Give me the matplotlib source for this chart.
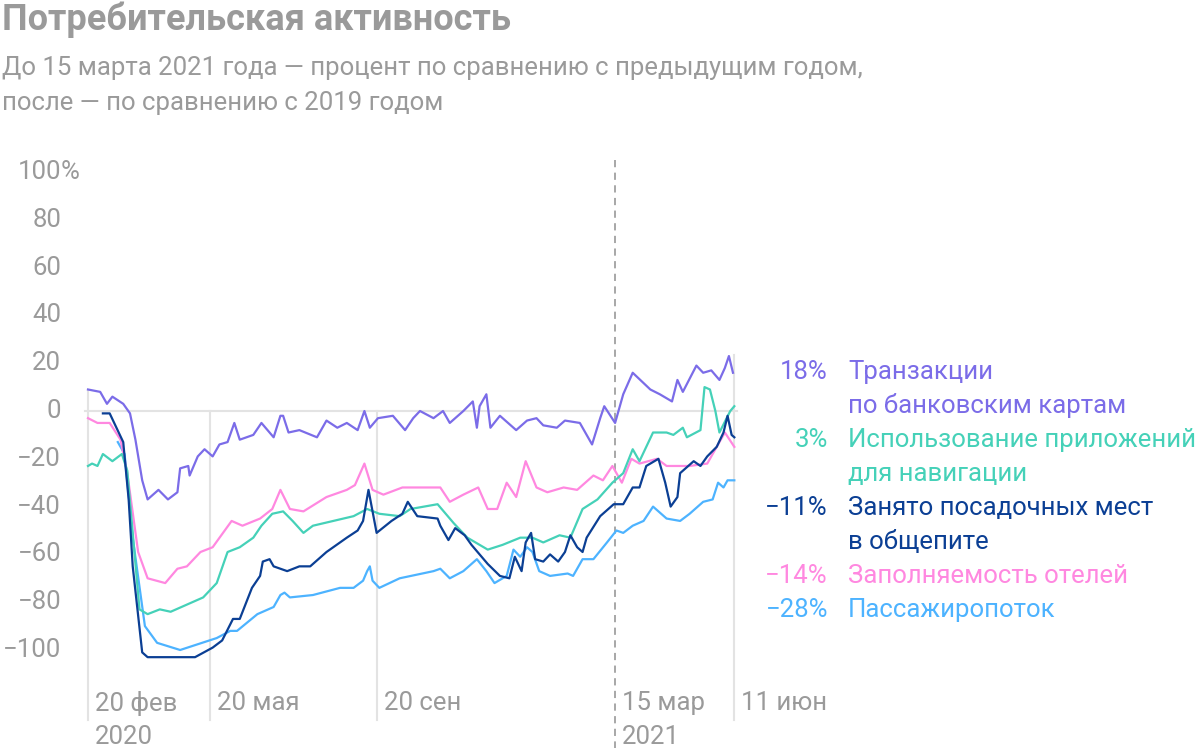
import matplotlib
matplotlib.use("Agg")
import matplotlib.pyplot as plt

# days since 2020-02-20
tr_d = [0,9,14,18,26,31,35,40,44,52,59,66,68,74,75,81,86,92,97,103,108,112,122,128,137,142,144,148,156,169,176,184,191,199,204,208,214,225,234,240,245,255,262,267,277,284,287,289,294,297,304,316,324,331,336,346,352,363,372,378,381,389,395,402,415,422,431,435,439,449,454,460,466,470,473,476]
tr_v = [9,8,3,6,3,-1,-12,-29,-37,-33,-37,-34,-24,-23,-27,-19,-16,-19,-14,-13,-5,-12,-10,-5,-11,-2,-2,-9,-8,-11,-4,-7,-5,-8,0,-7,-3,-2,-8,-3,0,-3,0,-5,0,4,-7,2,7,-7,-2,-8,-4,-3,-6,-7,-4,-5,-14,-3,2,-5,7,16,9,7,4,13,8,19,16,17,13,18,23,16]

nav_d = [0,3,7,11,18,25,29,33,38,44,53,61,77,85,95,103,112,122,128,136,144,151,159,166,181,196,206,215,230,238,258,270,280,295,306,319,328,336,348,356,365,376,387,395,402,407,417,427,432,439,442,452,455,459,463,466,474,477]
nav_v = [-23,-22,-23,-18,-21,-18,-25,-51,-83,-85,-83,-84,-80,-78,-72,-59,-57,-53,-48,-43,-42,-46,-51,-48,-46,-44,-41,-43,-44,-41,-39,-47,-53,-58,-56,-53,-53,-55,-52,-53,-41,-37,-30,-26,-16,-21,-9,-9,-10,-7,-11,-8,10,9,0,-9,0,2]

seat_d = [11,16,26,30,33,40,44,79,92,99,107,112,121,127,129,134,137,147,156,164,176,191,199,203,207,213,224,232,236,243,258,260,266,271,278,283,295,304,311,315,320,323,327,330,336,341,347,352,356,361,365,368,378,388,395,402,407,412,421,426,430,435,437,447,452,457,464,469,472,475,477]
seat_v = [-1,-1,-13,-37,-65,-101,-103,-103,-99,-96,-87,-87,-74,-69,-63,-62,-65,-67,-65,-65,-59,-53,-50,-46,-33,-51,-46,-43,-38,-44,-45,-48,-54,-49,-52,-56,-64,-69,-70,-61,-67,-55,-51,-62,-63,-60,-63,-59,-52,-57,-59,-53,-44,-39,-39,-32,-32,-23,-20,-30,-40,-36,-26,-21,-23,-19,-15,-9,-2,-10,-11]

hot_d = [0,7,16,24,29,37,44,57,66,73,83,92,106,114,127,136,142,149,159,176,191,197,204,210,218,232,238,260,267,277,288,295,302,309,316,323,331,339,351,361,373,380,387,394,401,407,420,427,444,457,466,470,477]
hot_v = [-3,-5,-5,-12,-26,-59,-70,-72,-66,-65,-59,-57,-46,-48,-45,-41,-33,-41,-42,-36,-33,-31,-22,-33,-35,-32,-32,-32,-38,-35,-32,-41,-41,-30,-36,-21,-32,-34,-32,-33,-27,-29,-23,-30,-20,-22,-20,-23,-23,-22,-13,-9,-15]

pas_d = [22,27,33,42,51,68,95,105,110,125,137,142,145,149,166,186,196,203,206,208,210,215,230,255,260,267,277,287,294,300,309,314,319,324,328,333,341,354,358,365,373,383,390,395,402,410,417,427,437,444,454,461,465,469,472,477]
pas_v = [-13,-18,-53,-90,-97,-100,-95,-92,-92,-85,-82,-77,-76,-78,-77,-74,-74,-71,-67,-65,-71,-74,-70,-67,-66,-70,-67,-62,-67,-72,-69,-58,-61,-57,-59,-67,-69,-68,-69,-62,-62,-55,-50,-51,-48,-46,-40,-45,-46,-43,-38,-37,-30,-32,-29,-29]

y_ticks = [100, 80, 60, 40, 20, 0, -20, -40, -60, -80, -100]
x_ticks = [(0, "20 фев", "2020"), (90, "20 мая", ""), (213, "20 сен", ""), (389, "15 мар", "2021"), (477, "11 июн", "")]
labels = [("18%", "Транзакции", "по банковским картам", "#7B6CE8"),
          ("3%", "Использование приложений", "для навигации", "#45D1B8"),
          ("−11%", "Занято посадочных мест", "в общепите", "#0B3F94"),
          ("−14%", "Заполняемость отелей", None, "#FF88E0"),
          ("−28%", "Пассажиропоток", None, "#4DB3FF")]

W, H = 1200, 754
FS = 18.5
FAM = "Roboto"
fig = plt.figure(figsize=(12, 7.54), dpi=100)
ax = fig.add_axes([0, 0, 1, 1])
px = 1.355; py = 2.39
ax.set_xlim(-88/px, (W-88)/px)
ax.set_ylim((411-H)/py, 411/py)
ax.axis("off")
def X(p): return (p-88)/px
def Y(p): return (411-p)/py

grid = "#e3e3e3"; grey = "#9a9a9a"
ax.plot([X(85), X(737)], [0, 0], color=grid, lw=1.5, zorder=1)
for d, a, b in x_ticks:
    if d == 389:
        ax.plot([d, d], [Y(160), Y(748)], color="#a0a0a0", lw=1.3, ls=(0, (4, 3)), zorder=1)
    else:
        top = Y(355) if d == 477 else (Y(390) if d == 0 else 0)
        ax.plot([d, d], [top, Y(720)], color=grid, lw=1.5, zorder=1)
    ax.text(d + X(95), Y(703), a, fontsize=FS, color=grey, va="center", ha="left", family=FAM)
    if b:
        ax.text(d + X(95), Y(737), b, fontsize=FS, color=grey, va="center", ha="left", family=FAM)
for v in y_ticks:
    ax.text(X(61), v, "−%d" % -v if v < 0 else str(v),
            fontsize=FS, color=grey, va="center", ha="right", family=FAM)
    if v == 100:
        ax.text(X(61), v, "%", fontsize=FS, color=grey, va="center", ha="left", family=FAM)

series = [(tr_d, tr_v), (nav_d, nav_v), (seat_d, seat_v), (hot_d, hot_v), (pas_d, pas_v)]
order = [4, 3, 1, 2, 0]
for i in order:
    d, v = series[i]
    ax.plot(d, v, color=labels[i][3], lw=1.6, zorder=3)

yy = 372
for val, l1, l2, c in labels:
    ax.text(X(828), Y(yy), val, fontsize=FS, color=c, ha="right", va="center", family=FAM)
    ax.text(X(848), Y(yy), l1, fontsize=FS, color=c, ha="left", va="center", family=FAM)
    yy += 34
    if l2:
        ax.text(X(848), Y(yy), l2, fontsize=FS, color=c, ha="left", va="center", family=FAM)
        yy += 34

fig.text(2/W, 1-20/H, "Потребительская активность", fontsize=26, fontweight="bold",
         color="#9a9a9a", va="center", ha="left", family=FAM)
fig.text(2/W, 1-68/H, "До 15 марта 2021 года — процент по сравнению с предыдущим годом,",
         fontsize=FS, color="#9a9a9a", va="center", ha="left", family=FAM)
fig.text(2/W, 1-103/H, "после — по сравнению с 2019 годом",
         fontsize=FS, color="#9a9a9a", va="center", ha="left", family=FAM)
fig.savefig("out.png", dpi=100, facecolor="white")
